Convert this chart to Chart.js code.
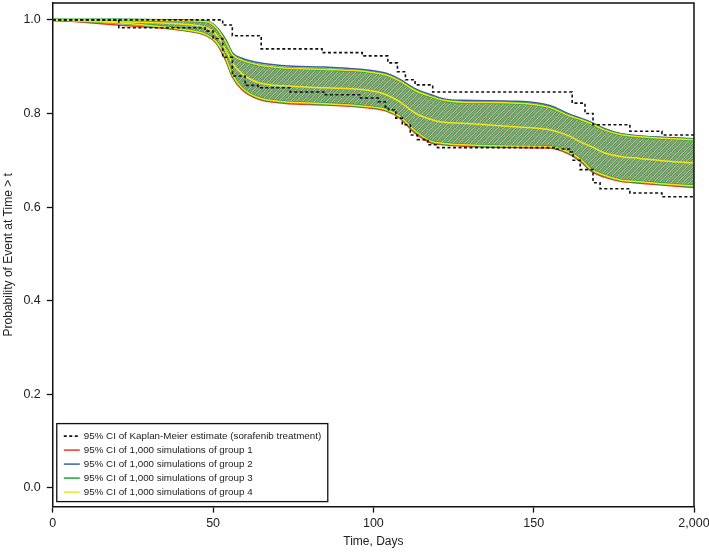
<!DOCTYPE html>
<html>
<head>
<meta charset="utf-8">
<script src="https://cdn.jsdelivr.net/npm/chart.js@4.4.1/dist/chart.umd.min.js"></script>
<style>
    html, body { margin: 0; padding: 0; background: #fff; }
</style>
</head>
<body>
<canvas id="kmChart" width="709" height="552"></canvas>
<script>
// axis ticks (the last time tick is labelled 2,000 in the original figure)
const xTicks = [0, 50, 100, 150, 200];
const yTicks = [0, 0.2, 0.4, 0.6, 0.8, 1.0];

// 95% CI of Kaplan-Meier estimate, step functions
const kmUpperDays = [0, 53, 56, 65, 84, 96.5, 104.5, 107.5, 110, 113, 118.5, 162, 166, 168.5, 180, 190, 200];
const kmUpperProb = [1.0, 0.989, 0.966, 0.938, 0.930, 0.923, 0.908, 0.889, 0.872, 0.861, 0.846, 0.822, 0.800, 0.776, 0.762, 0.754, 0.754];
const kmLowerDays = [0, 20.6, 47.5, 50, 53, 56, 60, 64, 74, 85, 96, 101.5, 103.7, 104.7, 107, 109, 111.5, 113.7, 117, 120, 157, 161.4, 162.3, 164.5, 168.5, 170.7, 180, 190, 200];
const kmLowerProb = [1.0, 0.983, 0.976, 0.960, 0.920, 0.880, 0.860, 0.855, 0.846, 0.840, 0.833, 0.825, 0.814, 0.808, 0.790, 0.776, 0.754, 0.744, 0.733, 0.727, 0.724, 0.718, 0.700, 0.680, 0.652, 0.639, 0.630, 0.622, 0.622];

// 95% CI bands of the simulations (groups overlap almost exactly)
const bandDays    = [0, 20, 40, 48, 51, 54, 56, 59, 64, 72, 85, 98, 104, 108, 113, 118, 122, 128, 145, 155, 161, 165, 168, 172, 177, 183, 190, 200];
const bandUpper   = [1.0, 1.0, 0.998, 0.996, 0.983, 0.952, 0.926, 0.914, 0.904, 0.897, 0.894, 0.889, 0.882, 0.870, 0.849, 0.836, 0.828, 0.824, 0.822, 0.813, 0.795, 0.786, 0.778, 0.765, 0.755, 0.750, 0.747, 0.744];
const bandMiddle  = [1.0, 0.996, 0.991, 0.983, 0.968, 0.935, 0.908, 0.885, 0.866, 0.859, 0.855, 0.850, 0.840, 0.826, 0.801, 0.787, 0.781, 0.779, 0.771, 0.765, 0.752, 0.738, 0.729, 0.716, 0.708, 0.704, 0.699, 0.694];
const bandLower   = [1.0, 0.994, 0.980, 0.968, 0.953, 0.918, 0.883, 0.855, 0.834, 0.825, 0.821, 0.815, 0.808, 0.795, 0.763, 0.741, 0.736, 0.733, 0.730, 0.729, 0.717, 0.700, 0.680, 0.668, 0.658, 0.654, 0.650, 0.645];
const group1Lower = [1.0, 0.989, 0.978, 0.966, 0.950, 0.912, 0.878, 0.851, 0.831, 0.822, 0.818, 0.812, 0.805, 0.791, 0.758, 0.737, 0.733, 0.730, 0.727, 0.726, 0.713, 0.695, 0.676, 0.664, 0.655, 0.651, 0.647, 0.642];
const group2Upper = [1.0, 1.001, 1.0, 0.997, 0.985, 0.957, 0.930, 0.918, 0.909, 0.902, 0.899, 0.893, 0.886, 0.874, 0.853, 0.840, 0.831, 0.828, 0.826, 0.817, 0.799, 0.789, 0.781, 0.768, 0.757, 0.752, 0.749, 0.746];

const legendLabels = [
    '95% CI of Kaplan-Meier estimate (sorafenib treatment)',
    '95% CI of 1,000 simulations of group 1',
    '95% CI of 1,000 simulations of group 2',
    '95% CI of 1,000 simulations of group 3',
    '95% CI of 1,000 simulations of group 4'
];

const FONT = '"Liberation Sans", Arial, sans-serif';
const RED = '#e8382e', BLUE = '#3d5da8', GREEN = '#23a03c', YELLOW = '#f1e419';

function pts(xs, ys) {
    return xs.map((x, i) => ({ x: x, y: ys[i] }));
}

// diagonal hatch used inside the simulation band
function makeHatch() {
    const s = 6;
    const c = document.createElement('canvas');
    c.width = s; c.height = s;
    const g = c.getContext('2d');
    g.fillStyle = '#c8e24e';
    g.fillRect(0, 0, s, s);
    function stripe(off, color, w) {
        g.strokeStyle = color;
        g.lineWidth = w;
        [off - s, off, off + s, off + 2 * s].forEach(k => {
            g.beginPath();
            g.moveTo(k + 1, -1);
            g.lineTo(k - s - 1, s + 1);
            g.stroke();
        });
    }
    stripe(0, '#7a84a0', 1.8);
    stripe(3.2, '#2f9a36', 1.1);
    return g.createPattern(c, 'repeat');
}

function lineSet(label, data, color, width, extra) {
    return Object.assign({
        label: label,
        data: data,
        borderColor: color,
        backgroundColor: color,
        borderWidth: width,
        pointRadius: 0,
        fill: false,
        cubicInterpolationMode: 'monotone'
    }, extra || {});
}

const kmStyle = { stepped: true, borderDash: [3, 2.5], cubicInterpolationMode: 'default' };

const datasets = [
    lineSet(legendLabels[0], pts(kmUpperDays, kmUpperProb), '#111', 1.6, kmStyle),
    lineSet('', pts(kmLowerDays, kmLowerProb), '#111', 1.6, kmStyle),
    lineSet(legendLabels[4], pts(bandDays, bandUpper), YELLOW, 1.5),
    lineSet('', pts(bandDays, bandMiddle), YELLOW, 1.5),
    lineSet('', pts(bandDays, bandLower), YELLOW, 1.5),
    lineSet(legendLabels[3], pts(bandDays, bandUpper), GREEN, 2.6),
    lineSet('', pts(bandDays, bandLower), GREEN, 2.6),
    lineSet(legendLabels[2], pts(bandDays, group2Upper), BLUE, 1.5),
    lineSet('', pts(bandDays, bandLower), BLUE, 1.5),
    lineSet(legendLabels[1], pts(bandDays, bandUpper), RED, 1.5),
    lineSet('', pts(bandDays, group1Lower), RED, 1.5),
    // hatched area between the band limits (filled to dataset 6)
    lineSet('', pts(bandDays, bandUpper), 'rgba(0,0,0,0)', 0, { fill: 6, backgroundColor: makeHatch() })
];

// top and right edges of the plot box
const framePlugin = {
    id: 'frame',
    afterDatasetsDraw(chart) {
        const a = chart.chartArea, ctx = chart.ctx;
        ctx.save();
        ctx.strokeStyle = '#111';
        ctx.lineWidth = 1.5;
        ctx.beginPath();
        ctx.moveTo(a.left, a.top);
        ctx.lineTo(a.right, a.top);
        ctx.lineTo(a.right, a.bottom);
        ctx.stroke();
        ctx.restore();
    }
};

// boxed legend in the lower left corner of the plot
const boxLegend = {
    id: 'boxLegend',
    afterDraw(chart) {
        const a = chart.chartArea, ctx = chart.ctx;
        const x = a.left + 4, w = 271, h = 78, y = a.bottom - 83;
        ctx.save();
        ctx.fillStyle = '#fff';
        ctx.fillRect(x, y, w, h);
        ctx.strokeStyle = '#111';
        ctx.lineWidth = 1.3;
        ctx.strokeRect(x, y, w, h);
        ctx.font = '9.8px ' + FONT;
        ctx.textBaseline = 'middle';
        legendLabels.forEach((lab, i) => {
            const ds = chart.data.datasets.find(d => d.label === lab);
            const ly = y + 12.5 + i * 14;
            ctx.strokeStyle = ds.borderColor;
            ctx.lineWidth = i === 0 ? 1.6 : 1.5;
            ctx.setLineDash(ds.borderDash || []);
            ctx.beginPath();
            ctx.moveTo(x + 7, ly);
            ctx.lineTo(x + 23, ly);
            ctx.stroke();
            ctx.setLineDash([]);
            ctx.fillStyle = '#222';
            ctx.fillText(lab, x + 27, ly);
        });
        ctx.restore();
    }
};

new Chart(document.getElementById('kmChart'), {
    type: 'line',
    data: { datasets: datasets },
    plugins: [framePlugin, boxLegend],
    options: {
        responsive: false,
        animation: false,
        layout: { autoPadding: false, padding: { top: 3, right: 15, left: 1, bottom: 3 } },
        plugins: {
            legend: { display: false },
            tooltip: { enabled: false }
        },
        scales: {
            x: {
                type: 'linear',
                min: 0,
                max: 200,
                afterBuildTicks: s => { s.ticks = xTicks.map(v => ({ value: v })); },
                afterFit: s => { s.paddingLeft = 0; s.paddingRight = 0; },
                ticks: {
                    callback: v => (v === 200 ? '2,000' : String(v)),
                    color: '#222',
                    font: { size: 12.5, family: FONT },
                    padding: 3,
                    maxRotation: 0
                },
                grid: { drawOnChartArea: false, tickLength: 6, color: '#111', tickWidth: 1.3 },
                border: { color: '#111', width: 1.5 },
                title: {
                    display: true,
                    text: 'Time, Days',
                    color: '#222',
                    font: { size: 12, family: FONT },
                    padding: { top: 1, bottom: 0 }
                }
            },
            y: {
                type: 'linear',
                min: -0.04,
                max: 1.036,
                afterBuildTicks: s => { s.ticks = yTicks.map(v => ({ value: v })); },
                afterFit: s => { s.paddingTop = 0; s.paddingBottom = 0; },
                ticks: {
                    callback: v => v.toFixed(1),
                    color: '#222',
                    font: { size: 12.5, family: FONT },
                    padding: 6
                },
                grid: { drawOnChartArea: false, tickLength: 6, color: '#111', tickWidth: 1.3 },
                border: { color: '#111', width: 1.5 },
                title: {
                    display: true,
                    text: 'Probability of Event at Time > t',
                    color: '#222',
                    font: { size: 12, family: FONT },
                    padding: { top: 0, bottom: 2 }
                }
            }
        }
    }
});
</script>
</body>
</html>
